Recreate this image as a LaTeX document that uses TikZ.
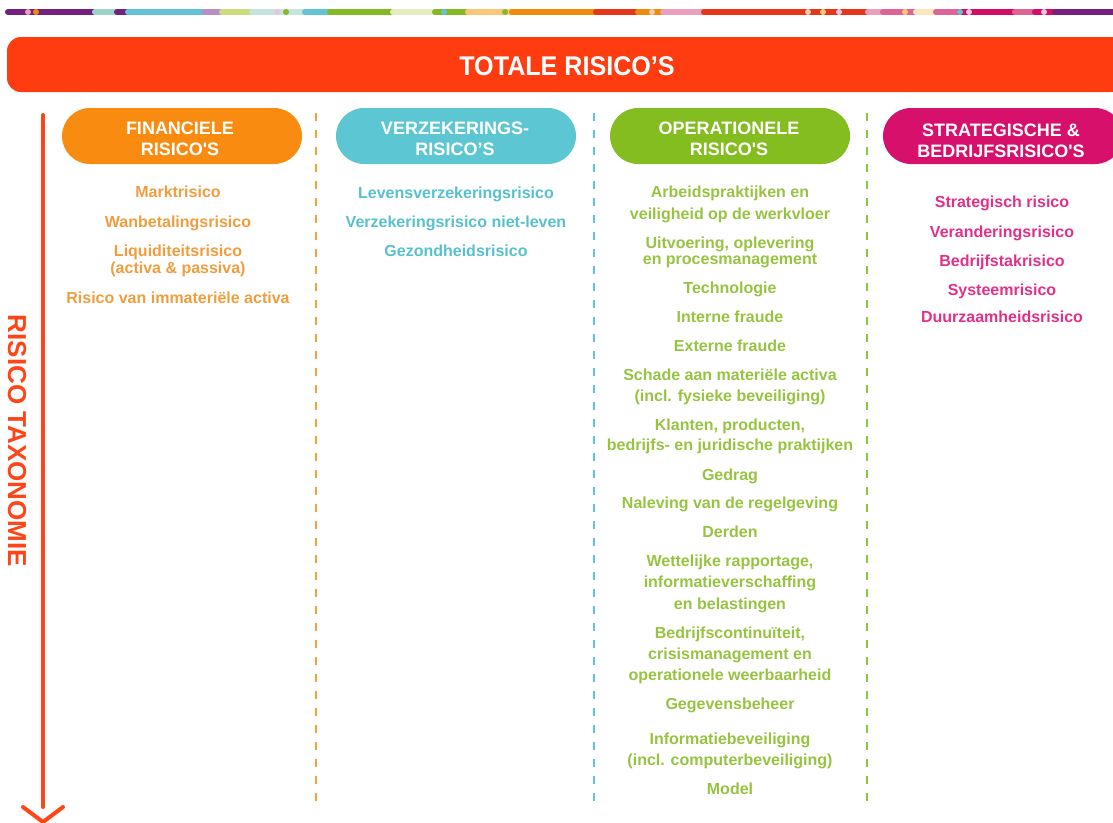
\documentclass[tikz,border=0pt]{standalone}
\usepackage{fontspec}
\setmainfont{Liberation Sans}
\definecolor{hdr}{RGB}{255,59,16}
\definecolor{arr}{RGB}{255,69,23}
\definecolor{finP}{RGB}{249,140,16}
\definecolor{finT}{RGB}{240,157,62}
\definecolor{finD}{RGB}{247,160,60}
\definecolor{verP}{RGB}{92,199,210}
\definecolor{verT}{RGB}{87,192,205}
\definecolor{opP}{RGB}{132,189,31}
\definecolor{opT}{RGB}{151,195,65}
\definecolor{opD}{RGB}{140,198,63}
\definecolor{strP}{RGB}{215,16,108}
\definecolor{strT}{RGB}{226,48,138}
\definecolor{sPurple}{RGB}{116,32,127}
\definecolor{sTeal}{RGB}{158,211,203}
\definecolor{sBlue}{RGB}{101,195,211}
\definecolor{sLilac}{RGB}{187,142,195}
\definecolor{sYel}{RGB}{203,220,122}
\definecolor{sPale}{RGB}{197,228,224}
\definecolor{sGreen}{RGB}{132,184,37}
\definecolor{sPaleG}{RGB}{227,237,191}
\definecolor{sLOr}{RGB}{251,199,122}
\definecolor{sOr}{RGB}{240,138,11}
\definecolor{sRed}{RGB}{229,54,26}
\definecolor{sPinkL}{RGB}{232,160,189}
\definecolor{sPinkM}{RGB}{220,101,149}
\definecolor{sPaleY}{RGB}{253,229,189}
\definecolor{sMag}{RGB}{211,12,102}
\definecolor{sPeach}{RGB}{250,205,170}
\definecolor{sLPink}{RGB}{236,196,220}
\begin{document}
\begin{tikzpicture}[x=1pt,y=-1pt,
  seg/.style={line width=6pt,line cap=round},
  dot/.style={circle,inner sep=0,minimum size=6pt},
  pill/.style={rounded corners=28pt},
  phead/.style={text=white,font=\bfseries\fontsize{18}{21}\selectfont,align=center,inner sep=0,anchor=base},
  itm/.style={font=\bfseries\fontsize{16}{21}\selectfont,inner sep=0,anchor=base},
  divider/.style={line width=2.7pt,dash pattern=on 8pt off 9pt}]
\useasboundingbox (0,0) rectangle (1113,822);
% ---- top colour strip ----
\draw[seg,sPurple] (8,12) -- (95,12);
\draw[seg,sTeal] (95,12) -- (117,12);
\draw[seg,sPurple] (117,12) -- (128,12);
\draw[seg,sBlue] (128,12) -- (205,12);
\draw[seg,sLilac] (205,12) -- (222,12);
\draw[seg,sYel] (222,12) -- (252,12);
\draw[seg,sPale] (252,12) -- (305,12);
\draw[seg,sBlue] (305,12) -- (330,12);
\draw[seg,sGreen] (330,12) -- (393,12);
\draw[seg,sPaleG] (393,12) -- (435,12);
\draw[seg,sGreen] (435,12) -- (468,12);
\draw[seg,sLOr] (468,12) -- (512,12);
\draw[seg,sOr] (512,12) -- (596,12);
\draw[seg,sRed] (596,12) -- (638,12);
\draw[seg,sOr] (638,12) -- (663,12);
\draw[seg,sPinkL] (663,12) -- (704,12);
\draw[seg,sRed] (704,12) -- (868,12);
\draw[seg,sPinkL] (868,12) -- (883,12);
\draw[seg,sPinkM] (883,12) -- (916,12);
\draw[seg,sPaleY] (916,12) -- (936,12);
\draw[seg,sPinkM] (936,12) -- (960,12);
\draw[seg,sMag] (960,12) -- (1015,12);
\draw[seg,sPinkM] (1015,12) -- (1035,12);
\draw[seg,sMag] (1035,12) -- (1055,12);
\draw[seg,sPurple] (1055,12) -- (1113,12);
\node[dot,fill=sPinkL] (d1) at (28,12) {};
\node[dot,fill=sOr] (d2) at (36,12) {};
\node[dot,fill=sLPink] (d3) at (277,12) {};
\node[dot,fill=sGreen] (d4) at (286,12) {};
\node[dot,fill=sBlue] (d5) at (444,12) {};
\node[dot,fill=sGreen] (d6) at (505,12) {};
\node[dot,fill=sOr] (d7) at (518,12) {};
\node[dot,fill=sPeach] (d8) at (652,12) {};
\node[dot,fill=sPeach] (d9) at (808,12) {};
\node[dot,fill=sLOr] (d10) at (823,12) {};
\node[dot,fill=sLPink] (d11) at (839,12) {};
\node[dot,fill=sLOr] (d12) at (905,12) {};
\node[dot,fill=sBlue] (d13) at (960,12) {};
\node[dot,fill=sLPink] (d14) at (969,12) {};
\node[dot,fill=sLPink] (d15) at (1044,12) {};
% ---- header bar ----
\fill[hdr,rounded corners=14pt] (7,37) rectangle (1125,92);
\node[text=white,font=\bfseries\fontsize{27}{30}\selectfont,inner sep=0,anchor=base,xscale=0.93] (title) at (567,75) {TOTALE RISICO’S};
% ---- taxonomy arrow ----
\draw[arr,line width=4pt,line cap=round] (43,115) -- (43,807);
\draw[arr,line width=4pt,line cap=round,line join=miter] (23,807) -- (43,822) -- (63,807);
\node[text=arr,font=\bfseries\fontsize{26}{30}\selectfont,rotate=-90,inner sep=0] (tax) at (17,441) {RISICO TAXONOMIE};
% ---- dividers ----
\draw[divider,finD] (316,113) -- (316,808);
\draw[divider,verP] (594,113) -- (594,808);
\draw[divider,opD] (867,113) -- (867,808);
% ---- column pills ----
\fill[finP,pill] (62,108) rectangle (302,164);
\fill[verP,pill] (336,108) rectangle (576,164);
\fill[opP,pill] (610,108) rectangle (850,164);
\fill[strP,pill] (883,108) rectangle (1123,164);
\node[phead] (h1) at (180,155) {FINANCIELE\\RISICO\textquotesingle S};
\node[phead] (h2) at (455,155) {VERZEKERINGS-\\RISICO’S};
\node[phead] (h3) at (729,155) {OPERATIONELE\\RISICO\textquotesingle S};
\node[phead] (h4) at (1001,157) {STRATEGISCHE \&\\BEDRIJFSRISICO\textquotesingle S};
% ---- financial ----
\begin{scope}[every node/.style={itm,text=finT}]
\node (f1) at (178,197) {Marktrisico};
\node (f2) at (178,227) {Wanbetalingsrisico};
\node (f3a) at (178,256) {Liquiditeitsrisico};
\node (f3b) at (178,273) {(activa \& passiva)};
\node (f4) at (178,303) {Risico van immateriële activa};
\end{scope}
% ---- insurance ----
\begin{scope}[every node/.style={itm,text=verT}]
\node (v1) at (456,198) {Levensverzekeringsrisico};
\node (v2) at (456,227) {Verzekeringsrisico niet-leven};
\node (v3) at (456,256) {Gezondheidsrisico};
\end{scope}
% ---- operational ----
\begin{scope}[every node/.style={itm,text=opT}]
\node (o1a) at (730,197) {Arbeidspraktijken en};
\node (o1b) at (730,219) {veiligheid op de werkvloer};
\node (o2a) at (730,248) {Uitvoering, oplevering};
\node (o2b) at (730,264) {en procesmanagement};
\node (o3) at (730,293) {Technologie};
\node (o4) at (730,322) {Interne fraude};
\node (o5) at (730,351) {Externe fraude};
\node (o6a) at (730,380) {Schade aan materiële activa};
\node (o6b) at (730,401) {(incl. fysieke beveiliging)};
\node (o7a) at (730,430) {Klanten, producten,};
\node (o7b) at (730,450) {bedrijfs- en juridische praktijken};
\node (o8) at (730,480) {Gedrag};
\node (o9) at (730,508) {Naleving van de regelgeving};
\node (o10) at (730,537) {Derden};
\node (o11a) at (730,566) {Wettelijke rapportage,};
\node (o11b) at (730,587) {informatieverschaffing};
\node (o11c) at (730,609) {en belastingen};
\node (o12a) at (730,638) {Bedrijfscontinuïteit,};
\node (o12b) at (730,659) {crisismanagement en};
\node (o12c) at (730,680) {operationele weerbaarheid};
\node (o13) at (730,709) {Gegevensbeheer};
\node (o14a) at (730,744) {Informatiebeveiliging};
\node (o14b) at (730,765) {(incl. computerbeveiliging)};
\node (o15) at (730,794) {Model};
\end{scope}
% ---- strategic ----
\begin{scope}[every node/.style={itm,text=strT}]
\node (s1) at (1002,207) {Strategisch risico};
\node (s2) at (1002,237) {Veranderingsrisico};
\node (s3) at (1002,266) {Bedrijfstakrisico};
\node (s4) at (1002,295) {Systeemrisico};
\node (s5) at (1002,322) {Duurzaamheidsrisico};
\end{scope}
\end{tikzpicture}
\end{document}
